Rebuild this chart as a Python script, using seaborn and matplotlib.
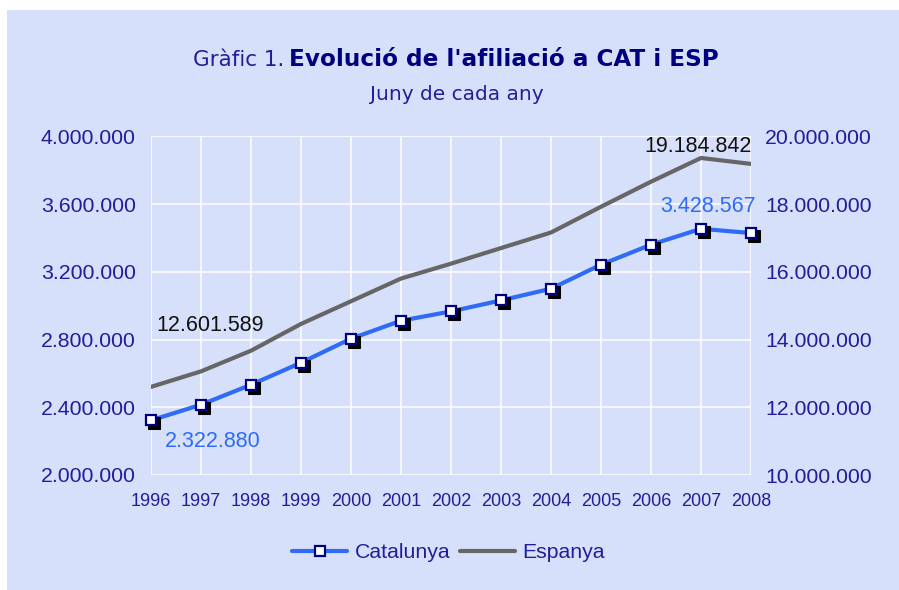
import numpy as np
import pandas as pd
import matplotlib.pyplot as plt
import matplotlib.transforms as mtransforms
from matplotlib.lines import Line2D
from matplotlib.patches import Rectangle
from matplotlib.ticker import FuncFormatter, MultipleLocator
import seaborn as sns

# Dades: afiliació al juny de cada any
anys = [1996, 1997, 1998, 1999, 2000, 2001, 2002, 2003, 2004, 2005, 2006, 2007, 2008]
catalunya = [2322880, 2415000, 2533000, 2663000, 2805000, 2911000, 2966000,
             3031000, 3100000, 3242000, 3360000, 3454000, 3428567]
espanya = [12601589, 13060000, 13670000, 14460000, 15130000, 15800000, 16240000,
           16700000, 17160000, 17920000, 18660000, 19360000, 19184842]

df = pd.DataFrame({'any': anys, 'Catalunya': catalunya, 'Espanya': espanya})

BG = '#D7E0FA'
NAVY = '#1F1F99'
BLUE = '#2F6BF7'
GREY = '#666666'

sns.set_theme(style='white')
plt.rcParams['font.family'] = ['Liberation Sans', 'DejaVu Sans']

fig = plt.figure(figsize=(8.99, 5.90), dpi=100, facecolor='white')
fig.patches.append(Rectangle((7 / 899, 0), 1, 1 - 10 / 590, transform=fig.transFigure,
                             facecolor=BG, edgecolor='none', zorder=-5))

ax = fig.add_axes([151 / 899, 115 / 590, 600 / 899, 338.7 / 590])
ax.set_facecolor('none')
ax2 = ax.twinx()

def fmt(v, pos=None):
    return f"{v:,.0f}".replace(",", ".")

# Catalunya: línia, ombra dels marcadors, marcadors
sns.lineplot(data=df, x='any', y='Catalunya', ax=ax, color=BLUE, linewidth=3, zorder=3)
sns.lineplot(data=df, x='any', y='Catalunya', ax=ax, linestyle='', marker='s',
             markersize=8, color='black', markeredgecolor='black', zorder=4, clip_on=False)
ax.lines[-1].set_transform(mtransforms.offset_copy(ax.transData, fig=fig, x=3, y=-3, units='dots'))
sns.lineplot(data=df, x='any', y='Catalunya', ax=ax, linestyle='', marker='s',
             markersize=7.5, color='white', markeredgecolor='#000080',
             markeredgewidth=1.6, zorder=5, clip_on=False)

# Espanya a l'eix secundari
sns.lineplot(data=df, x='any', y='Espanya', ax=ax2, color=GREY, linewidth=3)

ax.set_xlim(anys[0], anys[-1])
ax.set_ylim(2000000, 4000000)
ax2.set_ylim(10000000, 20000000)
ax.yaxis.set_major_locator(MultipleLocator(400000))
ax2.yaxis.set_major_locator(MultipleLocator(2000000))
ax.set_xticks(anys)
ax.yaxis.set_major_formatter(FuncFormatter(fmt))
ax2.yaxis.set_major_formatter(FuncFormatter(fmt))

ax.grid(True, color='white', linewidth=1.1)
ax2.grid(False)
for a in (ax, ax2):
    for s in a.spines.values():
        s.set_visible(False)
    a.set_xlabel('')
    a.set_ylabel('')
ax.tick_params(axis='y', length=0, pad=11, labelsize=15.3, labelcolor=NAVY)
ax2.tick_params(axis='y', length=0, pad=10, labelsize=15.3, labelcolor=NAVY)
ax.tick_params(axis='x', length=0, pad=13, labelsize=13, labelcolor=NAVY)

# Etiquetes de dades
ax.annotate(fmt(catalunya[0]), xy=(anys[0], catalunya[0]), xytext=(62, -21),
            textcoords='offset pixels', ha='center', va='center', fontsize=15.5, color=BLUE)
ax.annotate(fmt(catalunya[-1]), xy=(anys[-1], catalunya[-1]), xytext=(-43, 27),
            textcoords='offset pixels', ha='center', va='center', fontsize=15.5, color=BLUE)
ax2.annotate(fmt(espanya[0]), xy=(anys[0], espanya[0]), xytext=(59, 61),
             textcoords='offset pixels', ha='center', va='center', fontsize=15.5, color='#111111')
ax2.annotate(fmt(espanya[-1]), xy=(anys[-1], espanya[-1]), xytext=(-53, 17),
             textcoords='offset pixels', ha='center', va='center', fontsize=15.5, color='#111111')

# Títols
fig.text(284 / 899, 1 - 66 / 590, 'Gràfic 1.', ha='right', va='baseline',
         fontsize=15.5, color=NAVY, family='DejaVu Sans')
fig.text(289 / 899, 1 - 66 / 590, "Evolució de l'afiliació a CAT i ESP", ha='left',
         va='baseline', fontsize=16.7, fontweight='bold', color='#000080', family='DejaVu Sans')
fig.text(457 / 899, 1 - 100 / 590, 'Juny de cada any', ha='center', va='baseline',
         fontsize=14.5, color=NAVY, family='DejaVu Sans')

# Llegenda
handles = [Line2D([], [], color=BLUE, linewidth=3, marker='s', markersize=7.5,
                  markerfacecolor='white', markeredgecolor='#000080', markeredgewidth=1.6),
           Line2D([], [], color=GREY, linewidth=3)]
leg = fig.legend(handles, ['Catalunya', 'Espanya'], loc='center', ncol=2,
                 bbox_to_anchor=(448.5 / 899, 1 - 553 / 590), frameon=False,
                 fontsize=15.3, handlelength=2.6, handletextpad=0.33, columnspacing=0.47)
for t in leg.get_texts():
    t.set_color(NAVY)

fig.savefig('out.png', dpi=100, facecolor='white')
